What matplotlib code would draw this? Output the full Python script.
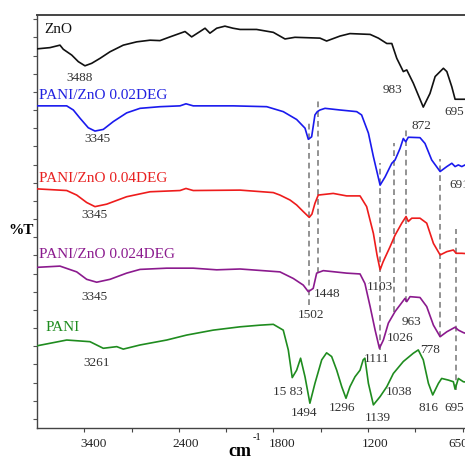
import numpy as np
import matplotlib
matplotlib.use('Agg')
import matplotlib.pyplot as plt
from matplotlib import transforms

plt.rcParams['font.family'] = ['Liberation Serif', 'DejaVu Serif']

# ---------------- data (wavenumber as read on the axis, %T) ----------------
zno_w = [3900, 3763, 3657, 3622, 3533, 3463, 3393, 3322, 3234, 3128, 2988, 2846, 2705, 2600,
         2494, 2361, 2319, 2266, 2234, 2203, 2160, 2108, 2057, 2012, 1907, 1801, 1727, 1664,
         1505, 1463, 1378, 1315, 1188, 1140, 1091, 1062, 1033, 995, 975, 937, 879, 840, 810,
         762, 742, 713, 694, 665, 636, 549]
zno_t = [91.8, 92.1, 92.7, 91.7, 90.3, 88.7, 87.7, 88.3, 89.5, 91.1, 92.7, 93.5, 93.9, 93.8,
         94.7, 96.0, 94.7, 96.0, 96.8, 95.6, 96.8, 97.3, 96.8, 96.5, 96.5, 95.8, 94.2, 94.6,
         94.4, 93.7, 94.9, 95.5, 95.3, 94.4, 93.1, 93.1, 89.5, 86.3, 86.7, 83.5, 77.7, 81.0, 85.1,
         87.1, 86.3, 82.6, 79.6, 79.6, 79.6, 79.6]

b_w = [3900, 3586, 3516, 3445, 3358, 3287, 3199, 3093, 2952, 2811, 2600, 2393, 2355, 2309,
       2055, 1843, 1738, 1653, 1600, 1579, 1558, 1537, 1522, 1505, 1473, 1378, 1272, 1241,
       1198, 1169, 1130, 1101, 1062, 1043, 1014, 995, 981, 966, 898, 869, 830, 781, 742, 713,
       694, 675, 655, 636, 549]
b_t = [78.0, 78.0, 77.0, 75.0, 72.7, 71.9, 72.3, 74.2, 76.3, 77.4, 77.8, 78.0, 78.5, 78.0,
       78.0, 77.8, 76.6, 74.7, 72.6, 69.9, 70.5, 75.8, 76.6, 77.0, 77.4, 77.0, 76.6, 75.8,
       71.4, 65.7, 58.8, 60.8, 64.1, 64.9, 67.7, 70.1, 69.3, 70.4, 70.3, 68.9, 64.9, 62.1, 63.3, 64.1,
       63.3, 63.7, 63.3, 63.7, 63.5]

r_w = [3900, 3586, 3480, 3375, 3287, 3163, 2952, 2705, 2393, 2355, 2309, 2012, 1801, 1759,
       1695, 1653, 1611, 1573, 1556, 1537, 1516, 1421, 1336, 1251, 1209, 1169, 1148, 1130,
       1113, 1072, 1043, 1004, 979, 966, 946, 898, 859, 820, 781, 742, 704, 688, 655, 549]
r_t = [57.9, 57.5, 56.4, 54.6, 53.6, 54.2, 56.0, 57.2, 57.5, 58.0, 57.5, 57.6, 57.0, 56.4,
       55.2, 54.0, 52.4, 51.0, 51.8, 54.4, 56.4, 56.8, 56.2, 56.2, 53.6, 47.1, 41.9, 38.3,
       40.2, 43.9, 46.7, 49.6, 51.2, 50.0, 50.8, 50.8, 49.6, 44.7, 41.9, 42.7, 43.1, 42.3, 42.3, 42.0]

p_w = [3900, 3657, 3480, 3375, 3269, 3128, 2952, 2811, 2529, 2309, 2160, 2012, 1759, 1674,
       1611, 1579, 1548, 1526, 1484, 1336, 1251, 1220, 1188, 1159, 1134, 1111, 1082, 1043,
       1014, 985, 975, 956, 898, 859, 820, 781, 742, 694, 675, 646, 549]
p_t = [38.9, 39.2, 37.8, 36.0, 35.3, 36.0, 37.5, 38.4, 38.7, 38.7, 38.3, 38.5, 37.8, 36.2,
       34.6, 33.0, 33.8, 37.5, 38.1, 37.5, 37.3, 35.0, 29.4, 23.7, 19.3, 21.3, 25.4, 28.2,
       29.8, 31.4, 30.6, 31.8, 31.6, 29.4, 24.9, 22.1, 23.3, 24.4, 23.7, 23.1, 21.8]

g_w = [3900, 3586, 3340, 3199, 3057, 2988, 2811, 2529, 2351, 2182, 2012, 1886, 1801, 1738,
       1706, 1681, 1653, 1628, 1600, 1569, 1537, 1494, 1463, 1431, 1399, 1367, 1340, 1315,
       1283, 1251, 1231, 1220, 1198, 1169, 1130, 1091, 1053, 995, 937, 908, 879, 849, 824,
       791, 772, 733, 704, 694, 675, 646, 549]
g_t = [19.9, 21.3, 20.9, 19.3, 19.7, 19.1, 20.1, 21.3, 22.5, 23.7, 24.5, 24.9, 25.1, 23.7,
       18.9, 12.2, 14.0, 16.9, 12.4, 6.0, 10.8, 16.5, 18.2, 17.3, 14.0, 10.0, 7.2, 10.0,
       12.4, 14.0, 16.5, 16.9, 10.8, 5.6, 7.6, 10.0, 13.2, 16.1, 18.1, 18.9, 16.5, 10.8, 8.0,
       10.8, 12.0, 11.6, 11.2, 9.4, 12.0, 11.2, 10.7]

series_names = ['ZnO', 'PANI/ZnO 0.02DEG', 'PANI/ZnO 0.04DEG', 'PANI/ZnO 0.024DEG', 'PANI']

# dashed guide lines (wavenumber, lower %T, upper %T)
dash_w = [1573, 1516, 1131, 1049, 980, 782, 691]
dash_lo = [29.8, 37.5, 18.9, 28.1, 30.5, 22.0, 9.2]
dash_hi = [73.8, 79.7, 64.2, 69.0, 72.6, 65.1, 48.2]

# peak annotations (text, wavenumber, %T)
peak_text = ['3488', '3345', '3345', '3345', '3261', '983', '695', '872', '1103', '1448',
             '1502', '963', '1026', '1111', '778', '15 83', '1494', '1296', '1139', '1038',
             '816', '695']
peak_w = [3445, 3266, 3297, 3297, 3266, 1060, 700, 892, 1130, 1461,
          1562, 950, 1014, 1148, 840, 1708, 1607, 1366, 1142, 1020,
          851, 700]
peak_t = [84.7, 70.0, 51.6, 31.7, 15.7, 81.8, 76.5, 73.1, 34.1, 32.4,
          27.4, 25.7, 21.8, 16.7, 18.9, 8.7, 3.6, 4.8, 2.4, 8.7,
          4.8, 4.8]

xtick_vals = [3400, 2400, 1800, 1200, 650]
xtick_labels = ['3400', '2400', '1800', '1200', '650']
xminor_vals = [2900, 2100, 1500, 925]

# ---------------- axis scale (piecewise linear, as on the original) ----------------
KW = [0, 650, 1200, 2400, 3900, 5000]
KU = [-11.36, -9.0, -7.0, -3.0, 0.0, 2.2]


def fwd(w):
    return np.interp(w, KW, KU)


def inv(u):
    return np.interp(u, KU, KW)


W, H = 465, 457
fig = plt.figure(figsize=(W / 100, H / 100), dpi=100)
ax = fig.add_axes([37 / W, 29 / H, (480 - 37) / W, 413 / H])
ax.set_xscale('function', functions=(fwd, inv))
ax.set_xlim(3900, 549)
ax.set_ylim(0, 100)

colors = ['#111111', '#1a1aee', '#ee1c1c', '#8b1a8e', '#1f8c1f']
text_colors = ['#111111', '#2020e0', '#e82020', '#8b1a8e', '#1f8c1f']
curves = [(zno_w, zno_t), (b_w, b_t), (r_w, r_t), (p_w, p_t), (g_w, g_t)]

ax.vlines(dash_w, dash_lo, dash_hi, colors='#8a8a8a', linestyles=(0, (3.2, 2.2)), lw=1.3, zorder=1)

for (xw, yt), c in zip(curves, colors):
    ax.plot(xw, yt, color=c, lw=1.2, zorder=3)

# series labels
name_pos = [(3826, 96.6), (3879, 80.4), (3879, 60.4), (3879, 41.9), (3805, 24.3)]
for name, (nx, ny), c in zip(series_names, name_pos, text_colors):
    ax.text(nx, ny, name, color=c, fontsize=11, ha='left', va='center', zorder=4)

for t, xw, yt in zip(peak_text, peak_w, peak_t):
    ax.text(xw, yt, t, color='#333333', fontsize=9.5, ha='center', va='center', zorder=4)
ax.text(729, 58.8, '691', color='#333333', fontsize=9.5, ha='left', va='center', zorder=4)

# spines / ticks
for s in ['top', 'bottom', 'left']:
    ax.spines[s].set_color('#444444')
    ax.spines[s].set_linewidth(1.0)
ax.spines['top'].set_linewidth(1.4)
ax.spines['right'].set_visible(False)

ax.set_xticks(xtick_vals)
ax.set_xticklabels(xtick_labels)
ax.set_xticks(xminor_vals, minor=True)
ax.tick_params(axis='x', which='both', direction='out', length=3, width=0.8,
               color='#444444', labelsize=9.5, labelcolor='#222222', pad=4)
ax.set_yticks(2.18 + 4.40 * np.arange(23))
ax.tick_params(axis='y', direction='out', length=3, width=0.8, color='#555555',
               labelleft=False)

offsets = [9, 7, 9, 7, -4]
for lbl, dx in zip(ax.get_xticklabels(), offsets):
    lbl.set_transform(lbl.get_transform() + transforms.ScaledTranslation(dx / 100, 0, fig.dpi_scale_trans))

fig.text(21 / W, 1 - 231 / H, '%T', fontsize=11, fontweight='bold', ha='center', va='center')
fig.text(240 / W, 1 - 451 / H, 'cm', fontsize=13, fontweight='bold', ha='center', va='center')
fig.text(257 / W, 1 - 437 / H, '-1', fontsize=7.5, ha='center', va='center')

fig.savefig('out.png', dpi=100)
